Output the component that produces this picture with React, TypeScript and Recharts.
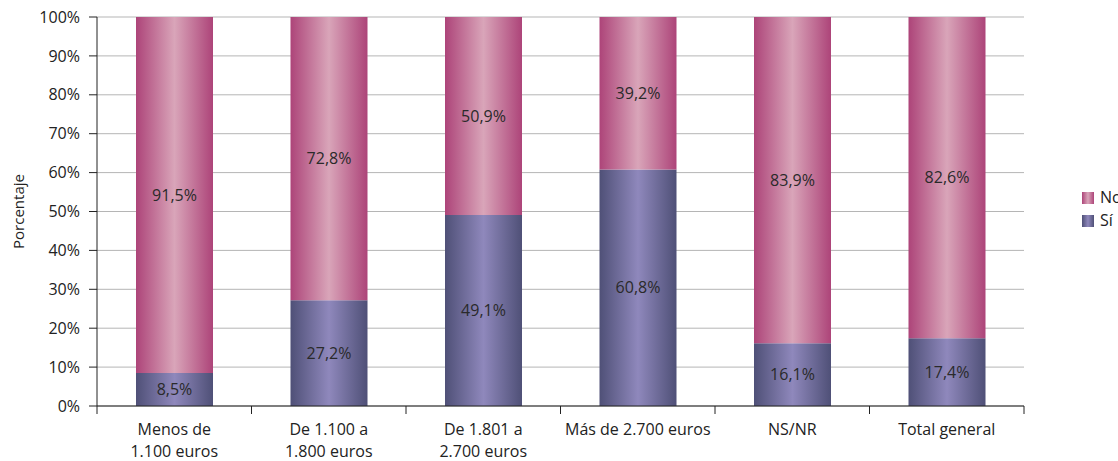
import React from 'react';
import {
  BarChart,
  Bar,
  XAxis,
  YAxis,
  CartesianGrid,
  Legend,
  LabelList
} from 'recharts';

const categories = [
  'Menos de\n1.100 euros',
  'De 1.100 a\n1.800 euros',
  'De 1.801 a\n2.700 euros',
  'Más de 2.700 euros',
  'NS/NR',
  'Total general'
];
const siValues = [8.5, 27.2, 49.1, 60.8, 16.1, 17.4];
const noValues = [91.5, 72.8, 50.9, 39.2, 83.9, 82.6];
const yTicks = [0, 10, 20, 30, 40, 50, 60, 70, 80, 90, 100];

const data = categories.map((name, i) => ({ name, si: siValues[i], no: noValues[i] }));

const W = 1118;
const H = 461;
const margin = { top: 17, right: 94, bottom: 0, left: 0 };
const yAxisWidth = 97;
const plotWidth = W - margin.left - margin.right - yAxisWidth;
const band = plotWidth / categories.length;
const font = '"Open Sans", sans-serif';

const fmt = (v: number) => v.toFixed(1).replace('.', ',') + '%';

const XTick = (props: any) => {
  const { x, y, payload, index } = props;
  const lines = String(payload.value).split('\n');
  const axisY = y - 8;
  return (
    <g>
      <line x1={x - band / 2} x2={x - band / 2} y1={axisY} y2={axisY + 8} stroke="#222" />
      {index === categories.length - 1 && (
        <line x1={x + band / 2} x2={x + band / 2} y1={axisY} y2={axisY + 8} stroke="#222" />
      )}
      <text x={x} y={axisY + 24} textAnchor="middle" fill="#222" fontSize={16} fontFamily={font}>
        {lines.map((l, i) => (
          <tspan key={i} x={x} dy={i === 0 ? 5 : 22}>{l}</tspan>
        ))}
      </text>
    </g>
  );
};

const YLabel = (props: any) => {
  const { viewBox } = props;
  const cy = viewBox.y + viewBox.height / 2;
  return (
    <text x={18} y={cy} transform={`rotate(-90 18 ${cy})`} textAnchor="middle"
      dominantBaseline="central" fill="#222" fontSize={15} fontFamily={font}>
      Porcentaje
    </text>
  );
};

const LegendBox = () => (
  <div style={{ fontFamily: font, fontSize: 16, color: '#222', lineHeight: '23px' }}>
    {[{ label: 'No', id: 'gNo' }, { label: 'Sí', id: 'gSi' }].map((it) => (
      <div key={it.label} style={{ display: 'flex', alignItems: 'center' }}>
        <svg width={12} height={12} style={{ marginRight: 6 }}>
          <rect width={12} height={12} fill={`url(#${it.id})`} />
        </svg>
        {it.label}
      </div>
    ))}
  </div>
);

export default function App() {
  return (
    <div style={{ position: 'absolute', left: 0, top: 0, width: W, height: H, background: '#fff' }}>
      <BarChart width={W} height={H} data={data} margin={margin}>
        <defs>
          <linearGradient id="gNo" x1="0" x2="1" y1="0" y2="0">
            <stop offset="0%" stopColor="#ad4479" />
            <stop offset="50%" stopColor="#d9a5b9" />
            <stop offset="100%" stopColor="#ad4479" />
          </linearGradient>
          <linearGradient id="gSi" x1="0" x2="1" y1="0" y2="0">
            <stop offset="0%" stopColor="#4f5077" />
            <stop offset="50%" stopColor="#8f88bc" />
            <stop offset="100%" stopColor="#4f5077" />
          </linearGradient>
        </defs>
        <CartesianGrid vertical={false} stroke="#b5b5b5" />
        <XAxis dataKey="name" height={H - 406} interval={0} tickLine={false}
          axisLine={{ stroke: '#222' }} tick={<XTick />} />
        <YAxis width={yAxisWidth} domain={[0, 100]} ticks={yTicks} tickFormatter={(v) => `${v}%`}
          tickSize={8} tickMargin={9} axisLine={{ stroke: '#222' }} tickLine={{ stroke: '#222' }}
          tick={{ fill: '#222', fontSize: 16, fontFamily: font }} label={<YLabel />} />
        <YAxis yAxisId="r" orientation="right" width={0} tick={false} tickLine={false}
          axisLine={{ stroke: '#222' }} domain={[0, 100]} />
        <Legend layout="vertical" align="center" verticalAlign="middle" content={<LegendBox />}
          wrapperStyle={{ left: 1082, top: 186, width: 40, height: 50 }} />
        <Bar dataKey="si" stackId="a" fill="url(#gSi)" barSize={77} isAnimationActive={false}>
          <LabelList dataKey="si" position="center" formatter={(v: any) => fmt(Number(v))}
            fill="#2a2a2a" fontSize={16} fontFamily={font} />
        </Bar>
        <Bar dataKey="no" stackId="a" fill="url(#gNo)" barSize={77} isAnimationActive={false}>
          <LabelList dataKey="no" position="center" formatter={(v: any) => fmt(Number(v))}
            fill="#2a2a2a" fontSize={16} fontFamily={font} />
        </Bar>
      </BarChart>
    </div>
  );
}
